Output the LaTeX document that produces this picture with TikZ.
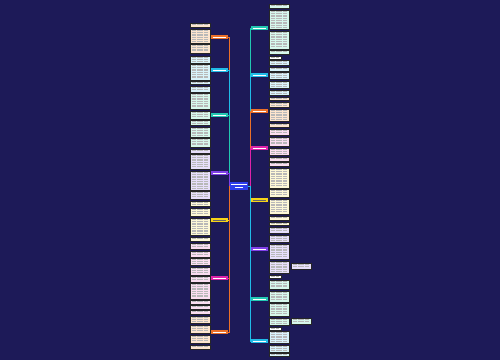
\documentclass[tikz,border=0pt]{standalone}
\usetikzlibrary{calc}

\definecolor{bgnavy}{RGB}{29,26,88}
\definecolor{rootblue}{RGB}{45,62,235}
\definecolor{cOrange}{RGB}{236,112,40}
\definecolor{cCyan}{RGB}{32,188,232}
\definecolor{cTeal}{RGB}{34,200,178}
\definecolor{cPurple}{RGB}{128,64,232}
\definecolor{cYellow}{RGB}{246,212,24}
\definecolor{cMagenta}{RGB}{222,34,170}
\definecolor{lOrange}{RGB}{253,229,206}
\definecolor{lCyan}{RGB}{216,243,251}
\definecolor{lTeal}{RGB}{214,248,236}
\definecolor{lPurple}{RGB}{231,222,251}
\definecolor{lYellow}{RGB}{253,248,214}
\definecolor{lMagenta}{RGB}{251,221,241}

\tikzset{
  leafbox/.style={draw=black!85, line width=0.35pt, inner sep=0pt, anchor=north west},
  branchbox/.style={inner sep=0pt, minimum width=17pt, minimum height=3.6pt, anchor=west},
  textline/.style={draw=black!28, line width=0.3pt, dash pattern=on 2pt off 0.4pt},
  spine/.style={draw=#1, line width=0.7pt}
}

% leaf: name, fill, x, top, width, height
\newcommand{\leaf}[6]{%
  \node[leafbox,fill=#2,minimum width=#5pt,minimum height=#6pt] (#1) at (#3,#4) {};
  \pgfmathtruncatemacro{\nlines}{max(1,floor((#6-1.5)/1.7))}
  \foreach \k in {1,...,\nlines}
    \draw[textline] ($(#1.north west)+(1.8,\k*1.7-0.2)$) -- ++(#5-3.6,0);
}
% branch: name, fill, left x, centre y, text colour
\newcommand{\branch}[5]{%
  \node[branchbox,fill=#2] (#1) at (#3,#4) {};
  \draw[#5,line width=0.4pt] ($(#1.west)+(1.5,0)$) -- ($(#1.east)+(-2,0)$);
}

\begin{document}
\begin{tikzpicture}[x=1pt,y=-1pt]
\fill[bgnavy] (0,0) rectangle (500,360);
\useasboundingbox (0,0) rectangle (500,360);

% root
\node[fill=rootblue, inner sep=0pt, minimum width=18pt, minimum height=8pt] (root) at (239,186) {};
\draw[white,line width=0.4pt] ($(root.west)+(1.5,-1.5)$) -- ($(root.east)+(-1.5,-1.5)$);
\draw[white,line width=0.4pt] ($(root.west)+(5,1.5)$) -- ($(root.east)+(-5,1.5)$);

\coordinate (hubL) at (229,186);
\coordinate (hubR) at (250,186);

% left branches
\branch{bl1}{cOrange}{211}{37}{white}
\branch{bl2}{cCyan}{211}{70}{white}
\branch{bl3}{cTeal}{211}{115}{white}
\branch{bl4}{cPurple}{211}{173}{white}
\branch{bl5}{cYellow}{211}{220}{black!60}
\branch{bl6}{cMagenta}{211}{278}{white}
\branch{bl7}{cOrange}{211}{332}{white}

% right branches
\branch{br1}{cTeal}{251}{28}{white}
\branch{br2}{cCyan}{251}{75}{white}
\branch{br3}{cOrange}{251}{111}{white}
\branch{br4}{cMagenta}{251}{148}{white}
\branch{br5}{cYellow}{251}{200}{black!60}
\branch{br6}{cPurple}{251}{249}{white}
\branch{br7}{cTeal}{251}{299}{white}
\branch{br8}{cCyan}{251}{341}{white}

% spines
\draw[spine=cOrange] (root.west) -- (hubL) |- (bl1.east);
\draw[spine=cCyan] (root.west) -- (hubL) |- (bl2.east);
\draw[spine=cTeal] (root.west) -- (hubL) |- (bl3.east);
\draw[spine=cPurple] (root.west) -- (hubL) |- (bl4.east);
\draw[spine=cYellow] (root.west) -- (hubL) |- (bl5.east);
\draw[spine=cMagenta] (root.west) -- (hubL) |- (bl6.east);
\draw[spine=cOrange] (root.west) -- (hubL) |- (bl7.east);
\draw[spine=cTeal] (root.east) -- (hubR) |- (br1.west);
\draw[spine=cCyan] (root.east) -- (hubR) |- (br2.west);
\draw[spine=cOrange] (root.east) -- (hubR) |- (br3.west);
\draw[spine=cMagenta] (root.east) -- (hubR) |- (br4.west);
\draw[spine=cYellow] (root.east) -- (hubR) |- (br5.west);
\draw[spine=cPurple] (root.east) -- (hubR) |- (br6.west);
\draw[spine=cTeal] (root.east) -- (hubR) |- (br7.west);
\draw[spine=cCyan] (root.east) -- (hubR) |- (br8.west);

% left leaves
\leaf{la1}{lOrange}{190}{23}{20}{4}
\leaf{la2}{lOrange}{190}{29}{20}{14}
\leaf{la3}{lOrange}{190}{44}{20}{9}
\leaf{lb1}{lCyan}{190}{56}{20}{7}
\leaf{lb2}{lCyan}{190}{64}{20}{16}
\leaf{lb3}{lCyan}{190}{81}{20}{3}
\leaf{lb4}{lCyan}{190}{86}{20}{6}
\leaf{lc1}{lTeal}{190}{93}{20}{16}
\leaf{lc2}{lTeal}{190}{111}{20}{8}
\leaf{lc3}{lTeal}{190}{120}{20}{5}
\leaf{lc4}{lTeal}{190}{127}{20}{10}
\leaf{lc5}{lTeal}{190}{138}{20}{9}
\leaf{ld1}{lPurple}{190}{149}{20}{4}
\leaf{ld2}{lPurple}{190}{154}{20}{15}
\leaf{ld3}{lPurple}{190}{171}{20}{19}
\leaf{ld4}{lPurple}{190}{191}{20}{8}
\leaf{le1}{lYellow}{190}{201}{20}{5}
\leaf{le2}{lYellow}{190}{208}{20}{8}
\leaf{le3}{lYellow}{190}{218}{20}{17}
\leaf{le4}{lYellow}{190}{237}{20}{4}
\leaf{lf1}{lMagenta}{190}{243}{20}{6}
\leaf{lf2}{lMagenta}{190}{251}{20}{6}
\leaf{lf3}{lMagenta}{190}{258}{20}{7}
\leaf{lf4}{lMagenta}{190}{267}{20}{8}
\leaf{lf5}{lMagenta}{190}{276}{20}{6}
\leaf{lf6}{lMagenta}{190}{283}{20}{16}
\leaf{lf7}{lMagenta}{190}{300}{20}{4}
\leaf{lf8}{lMagenta}{190}{305}{20}{4}
\leaf{lf9}{lMagenta}{190}{310}{20}{4}
\leaf{lg1}{lOrange}{190}{316}{20}{7}
\leaf{lg2}{lOrange}{190}{325}{20}{8}
\leaf{lg3}{lOrange}{190}{335}{20}{8}
\leaf{lg4}{lOrange}{190}{345}{20}{4}

% right leaves
\leaf{ra1}{lTeal}{269}{4}{20}{4}
\leaf{ra2}{lTeal}{269}{10}{20}{19}
\leaf{ra3}{lTeal}{269}{31}{20}{18}
\leaf{ra4}{lTeal}{269}{50}{20}{4}
\leaf{ra5}{white}{269}{56}{12}{2.5}
\leaf{rb1}{lCyan}{269}{60}{20}{5}
\leaf{rb2}{lCyan}{269}{67}{20}{4}
\leaf{rb3}{lCyan}{269}{72}{20}{7}
\leaf{rb4}{lCyan}{269}{81}{20}{7}
\leaf{rb5}{lCyan}{269}{90}{20}{5}
\leaf{rc1}{lOrange}{269}{97}{20}{3}
\leaf{rc2}{lOrange}{269}{102}{20}{5}
\leaf{rc3}{lOrange}{269}{109}{20}{12}
\leaf{rc4}{lOrange}{269}{123}{20}{4}
\leaf{rd1}{lMagenta}{269}{129}{20}{6}
\leaf{rd2}{lMagenta}{269}{137}{20}{9}
\leaf{rd3}{lMagenta}{269}{148}{20}{7}
\leaf{rd4}{lMagenta}{269}{157}{20}{4}
\leaf{rd5}{lMagenta}{269}{162}{20}{4}
\leaf{re1}{lYellow}{269}{168}{20}{20}
\leaf{re2}{lYellow}{269}{189}{20}{8}
\leaf{re3}{lYellow}{269}{199}{20}{15}
\leaf{re4}{lYellow}{269}{216}{20}{4}
\leaf{re5}{lYellow}{269}{222}{20}{3}
\leaf{rf1}{lPurple}{269}{227}{20}{6}
\leaf{rf2}{lPurple}{269}{235}{20}{7}
\leaf{rf3}{lPurple}{269}{244}{20}{15}
\leaf{rf4}{lPurple}{269}{261}{20}{12}
\leaf{rf5}{lPurple}{291}{263}{20}{6}
\leaf{rg1}{white}{269}{275}{12}{3}
\leaf{rg2}{lTeal}{269}{280}{20}{9}
\leaf{rg3}{lTeal}{269}{291}{20}{11}
\leaf{rg4}{lTeal}{269}{303}{20}{13}
\leaf{rg5}{lTeal}{269}{318}{20}{7}
\leaf{rg6}{lTeal}{291}{318}{20}{6}
\leaf{rh1}{white}{269}{327}{12}{2.5}
\leaf{rh2}{lCyan}{269}{331}{20}{12}
\leaf{rh3}{lCyan}{269}{345}{20}{7}
\leaf{rh4}{lCyan}{269}{353}{20}{3}

\end{tikzpicture}
\end{document}
